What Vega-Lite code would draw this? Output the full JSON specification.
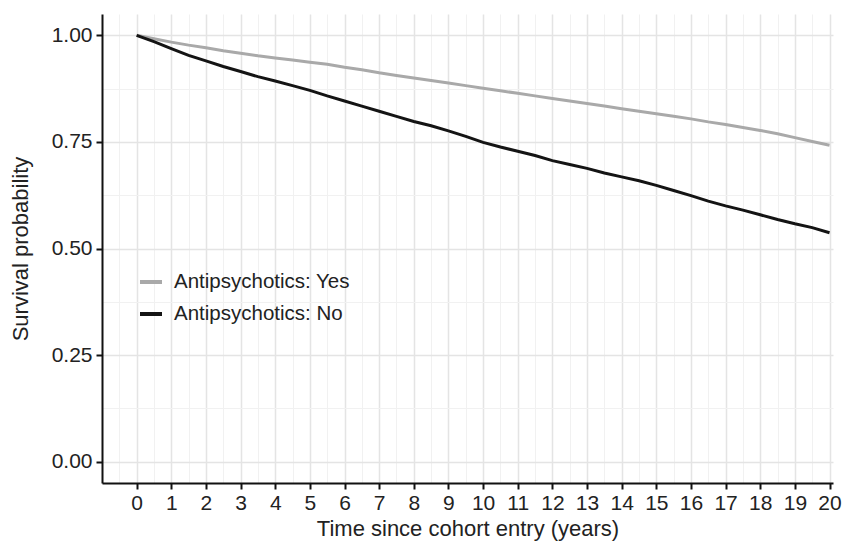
{
  "$schema": "https://vega.github.io/schema/vega-lite/v6.json",
  "width": 731,
  "height": 469,
  "autosize": {"type": "none"},
  "padding": {"left": 102, "top": 14, "right": 10, "bottom": 60},
  "background": "white",
  "config": {
    "view": {"stroke": null},
    "font": "Liberation Sans",
    "axis": {
      "labelFont": "Liberation Sans",
      "titleFont": "Liberation Sans",
      "labelColor": "#222222",
      "titleColor": "#222222",
      "titleFontWeight": "normal"
    },
    "legend": {"labelFont": "Liberation Sans"}
  },
  "data": {"values": [
    {"t": 0, "s": 1.000, "g": "Antipsychotics: Yes"},
    {"t": 0.5, "s": 0.992, "g": "Antipsychotics: Yes"},
    {"t": 1, "s": 0.984, "g": "Antipsychotics: Yes"},
    {"t": 1.5, "s": 0.977, "g": "Antipsychotics: Yes"},
    {"t": 2, "s": 0.971, "g": "Antipsychotics: Yes"},
    {"t": 2.5, "s": 0.964, "g": "Antipsychotics: Yes"},
    {"t": 3, "s": 0.958, "g": "Antipsychotics: Yes"},
    {"t": 3.5, "s": 0.952, "g": "Antipsychotics: Yes"},
    {"t": 4, "s": 0.947, "g": "Antipsychotics: Yes"},
    {"t": 4.5, "s": 0.942, "g": "Antipsychotics: Yes"},
    {"t": 5, "s": 0.937, "g": "Antipsychotics: Yes"},
    {"t": 5.5, "s": 0.932, "g": "Antipsychotics: Yes"},
    {"t": 6, "s": 0.925, "g": "Antipsychotics: Yes"},
    {"t": 6.5, "s": 0.919, "g": "Antipsychotics: Yes"},
    {"t": 7, "s": 0.912, "g": "Antipsychotics: Yes"},
    {"t": 7.5, "s": 0.906, "g": "Antipsychotics: Yes"},
    {"t": 8, "s": 0.900, "g": "Antipsychotics: Yes"},
    {"t": 8.5, "s": 0.894, "g": "Antipsychotics: Yes"},
    {"t": 9, "s": 0.888, "g": "Antipsychotics: Yes"},
    {"t": 9.5, "s": 0.882, "g": "Antipsychotics: Yes"},
    {"t": 10, "s": 0.876, "g": "Antipsychotics: Yes"},
    {"t": 10.5, "s": 0.870, "g": "Antipsychotics: Yes"},
    {"t": 11, "s": 0.864, "g": "Antipsychotics: Yes"},
    {"t": 11.5, "s": 0.858, "g": "Antipsychotics: Yes"},
    {"t": 12, "s": 0.852, "g": "Antipsychotics: Yes"},
    {"t": 12.5, "s": 0.846, "g": "Antipsychotics: Yes"},
    {"t": 13, "s": 0.840, "g": "Antipsychotics: Yes"},
    {"t": 13.5, "s": 0.834, "g": "Antipsychotics: Yes"},
    {"t": 14, "s": 0.828, "g": "Antipsychotics: Yes"},
    {"t": 14.5, "s": 0.822, "g": "Antipsychotics: Yes"},
    {"t": 15, "s": 0.816, "g": "Antipsychotics: Yes"},
    {"t": 15.5, "s": 0.810, "g": "Antipsychotics: Yes"},
    {"t": 16, "s": 0.804, "g": "Antipsychotics: Yes"},
    {"t": 16.5, "s": 0.797, "g": "Antipsychotics: Yes"},
    {"t": 17, "s": 0.791, "g": "Antipsychotics: Yes"},
    {"t": 17.5, "s": 0.784, "g": "Antipsychotics: Yes"},
    {"t": 18, "s": 0.777, "g": "Antipsychotics: Yes"},
    {"t": 18.5, "s": 0.769, "g": "Antipsychotics: Yes"},
    {"t": 19, "s": 0.760, "g": "Antipsychotics: Yes"},
    {"t": 19.5, "s": 0.751, "g": "Antipsychotics: Yes"},
    {"t": 20, "s": 0.742, "g": "Antipsychotics: Yes"},
    {"t": 0, "s": 1.000, "g": "Antipsychotics: No"},
    {"t": 0.5, "s": 0.985, "g": "Antipsychotics: No"},
    {"t": 1, "s": 0.969, "g": "Antipsychotics: No"},
    {"t": 1.5, "s": 0.953, "g": "Antipsychotics: No"},
    {"t": 2, "s": 0.940, "g": "Antipsychotics: No"},
    {"t": 2.5, "s": 0.927, "g": "Antipsychotics: No"},
    {"t": 3, "s": 0.915, "g": "Antipsychotics: No"},
    {"t": 3.5, "s": 0.903, "g": "Antipsychotics: No"},
    {"t": 4, "s": 0.893, "g": "Antipsychotics: No"},
    {"t": 4.5, "s": 0.882, "g": "Antipsychotics: No"},
    {"t": 5, "s": 0.871, "g": "Antipsychotics: No"},
    {"t": 5.5, "s": 0.858, "g": "Antipsychotics: No"},
    {"t": 6, "s": 0.846, "g": "Antipsychotics: No"},
    {"t": 6.5, "s": 0.834, "g": "Antipsychotics: No"},
    {"t": 7, "s": 0.822, "g": "Antipsychotics: No"},
    {"t": 7.5, "s": 0.810, "g": "Antipsychotics: No"},
    {"t": 8, "s": 0.798, "g": "Antipsychotics: No"},
    {"t": 8.5, "s": 0.788, "g": "Antipsychotics: No"},
    {"t": 9, "s": 0.776, "g": "Antipsychotics: No"},
    {"t": 9.5, "s": 0.763, "g": "Antipsychotics: No"},
    {"t": 10, "s": 0.749, "g": "Antipsychotics: No"},
    {"t": 10.5, "s": 0.738, "g": "Antipsychotics: No"},
    {"t": 11, "s": 0.728, "g": "Antipsychotics: No"},
    {"t": 11.5, "s": 0.718, "g": "Antipsychotics: No"},
    {"t": 12, "s": 0.706, "g": "Antipsychotics: No"},
    {"t": 12.5, "s": 0.697, "g": "Antipsychotics: No"},
    {"t": 13, "s": 0.688, "g": "Antipsychotics: No"},
    {"t": 13.5, "s": 0.677, "g": "Antipsychotics: No"},
    {"t": 14, "s": 0.668, "g": "Antipsychotics: No"},
    {"t": 14.5, "s": 0.659, "g": "Antipsychotics: No"},
    {"t": 15, "s": 0.648, "g": "Antipsychotics: No"},
    {"t": 15.5, "s": 0.636, "g": "Antipsychotics: No"},
    {"t": 16, "s": 0.624, "g": "Antipsychotics: No"},
    {"t": 16.5, "s": 0.611, "g": "Antipsychotics: No"},
    {"t": 17, "s": 0.600, "g": "Antipsychotics: No"},
    {"t": 17.5, "s": 0.590, "g": "Antipsychotics: No"},
    {"t": 18, "s": 0.579, "g": "Antipsychotics: No"},
    {"t": 18.5, "s": 0.568, "g": "Antipsychotics: No"},
    {"t": 19, "s": 0.558, "g": "Antipsychotics: No"},
    {"t": 19.5, "s": 0.549, "g": "Antipsychotics: No"},
    {"t": 20, "s": 0.537, "g": "Antipsychotics: No"}
  ]},
  "layer": [
    {
      "mark": {"type": "line", "opacity": 0},
      "encoding": {
        "x": {"field": "t", "type": "quantitative",
          "scale": {"domain": [-1, 20.1], "nice": false, "zero": false},
          "axis": {"orient": "bottom", "values": [-0.5,0.5,1.5,2.5,3.5,4.5,5.5,6.5,7.5,8.5,9.5,10.5,11.5,12.5,13.5,14.5,15.5,16.5,17.5,18.5,19.5],
            "grid": true, "gridColor": "#f1f1f1", "gridWidth": 1, "labels": false, "ticks": false, "domain": false, "title": null}},
        "y": {"field": "s", "type": "quantitative",
          "scale": {"domain": [-0.05, 1.05], "nice": false, "zero": false},
          "axis": {"orient": "left", "values": [0.125, 0.375, 0.625, 0.875],
            "grid": true, "gridColor": "#f1f1f1", "gridWidth": 1, "labels": false, "ticks": false, "domain": false, "title": null}},
        "detail": {"field": "g"}
      }
    },
    {
      "mark": {"type": "line", "strokeWidth": 3},
      "encoding": {
        "x": {"field": "t", "type": "quantitative",
          "scale": {"domain": [-1, 20.1], "nice": false, "zero": false},
          "axis": {"orient": "bottom", "values": [0,1,2,3,4,5,6,7,8,9,10,11,12,13,14,15,16,17,18,19,20],
            "grid": true, "gridColor": "#e4e4e4", "gridWidth": 1.5,
            "domainColor": "#111111", "domainWidth": 2, "tickColor": "#111111", "tickWidth": 2, "tickSize": 6,
            "labelFontSize": 21, "labelPadding": 3, "labelFlush": false,
            "title": "Time since cohort entry (years)", "titleFontSize": 22, "titlePadding": 5}},
        "y": {"field": "s", "type": "quantitative",
          "scale": {"domain": [-0.05, 1.05], "nice": false, "zero": false},
          "axis": {"orient": "left", "values": [0, 0.25, 0.5, 0.75, 1], "format": ".2f",
            "grid": true, "gridColor": "#e4e4e4", "gridWidth": 1.5,
            "domainColor": "#111111", "domainWidth": 2, "tickColor": "#111111", "tickWidth": 2, "tickSize": 6,
            "labelFontSize": 21, "labelPadding": 4, "labelFlush": false,
            "title": "Survival probability", "titleFontSize": 22, "titlePadding": 19}},
        "color": {"field": "g", "type": "nominal",
          "scale": {"domain": ["Antipsychotics: Yes", "Antipsychotics: No"], "range": ["#a9a9a9", "#141414"]},
          "legend": {"title": null, "orient": "none", "legendX": 36, "legendY": 255, "padding": 0,
            "symbolType": "stroke", "symbolSize": 484, "symbolStrokeWidth": 4,
            "labelFontSize": 20.5, "labelColor": "#222222", "labelOffset": 10, "labelLimit": 400, "rowPadding": 8}}
      }
    }
  ],
  "resolve": {"axis": {"x": "independent", "y": "independent"}}
}
